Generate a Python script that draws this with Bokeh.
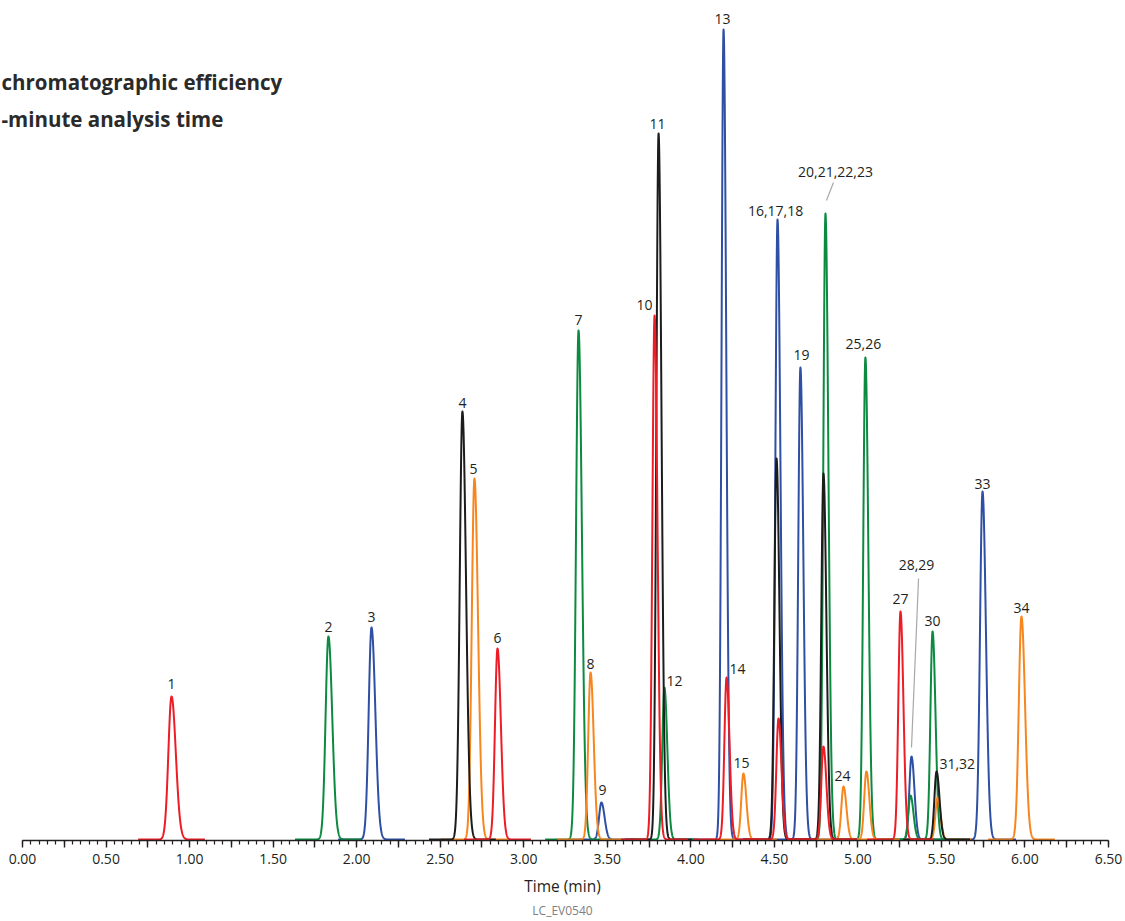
import numpy as np
from bokeh.plotting import figure
from bokeh.models import Range1d, FixedTicker, Label, ColumnDataSource, Title
from bokeh.core.properties import value
from bokeh.embed import file_html
from bokeh.resources import INLINE

# ---- data ----
# one entry per coloured trace peak: retention time (min), height (relative units), sigma (min), colour
peak_time = [0.892, 1.831, 2.089, 2.633, 2.705, 2.843, 3.328, 3.400, 3.465, 3.783,
             3.807, 3.842, 4.196, 4.214, 4.315, 4.519, 4.513, 4.525, 4.656, 4.806,
             4.794, 4.794, 4.914, 5.045, 5.051, 5.255, 5.321, 5.315, 5.447, 5.471,
             5.477, 5.746, 5.979]
peak_height = [143, 203, 212, 428, 361, 191, 509, 167, 37, 524,
               706, 152, 810, 162, 66, 620, 381, 121, 472, 626,
               366, 93, 53, 482, 68, 228, 83, 44, 208, 68,
               42, 348, 223]
peak_sigma = [0.019, 0.017, 0.017, 0.016, 0.016, 0.015, 0.015, 0.014, 0.014, 0.013,
              0.013, 0.013, 0.012, 0.013, 0.013, 0.013, 0.013, 0.013, 0.013, 0.013,
              0.013, 0.013, 0.013, 0.013, 0.013, 0.013, 0.013, 0.013, 0.013, 0.013,
              0.013, 0.015, 0.016]
peak_color = ["red", "green", "blue", "black", "orange", "red", "green", "orange", "blue", "red",
              "black", "green", "blue", "red", "orange", "blue", "black", "red", "blue", "green",
              "black", "red", "orange", "green", "orange", "red", "blue", "green", "green", "black",
              "orange", "blue", "orange"]

# peak labels: text, anchor time (min), anchor height, alignment
lab_text = ["1", "2", "3", "4", "5", "6", "7", "8", "9", "10", "11", "12", "13", "14", "15",
            "16,17,18", "19", "20,21,22,23", "24", "25,26", "27", "28,29", "30", "31,32", "33", "34"]
lab_time = [0.892, 1.831, 2.089, 2.633, 2.699, 2.843, 3.328, 3.400, 3.471, 3.771, 3.801, 3.854,
            4.190, 4.231, 4.303, 4.507, 4.662, 4.866, 4.908, 5.033, 5.255, 5.351, 5.447, 5.488,
            5.746, 5.979]
lab_height = [151, 208, 218, 432, 366, 197, 515, 171, 45, 530, 711, 154, 816, 166, 72,
              624, 480, 663, 59, 491, 236, 270, 214, 71, 351, 227]
lab_align = ["center"] * 9 + ["right", "center", "left", "center", "left", "center",
             "center", "center", "center", "center", "center", "center", "center", "center",
             "left", "center", "center"]

# leader lines (label -> peak)
lead_t0 = [4.854, 5.363]
lead_h0 = [657, 261]
lead_t1 = [4.812, 5.321]
lead_h1 = [639, 92]

x_ticks_major = [i * 0.25 for i in range(27)]
x_ticks_minor = [i * 0.05 for i in range(131)]

heading = ["chromatographic efficiency", "-minute analysis time"]
heading_y = [758, 721]

COLORS = {"red": "#ee1c25", "green": "#0c8a40", "blue": "#2e4fa3",
          "black": "#1c1c1c", "orange": "#f7861f"}
DRAW_ORDER = ["blue", "green", "orange", "black", "red"]
TXT = "#231f20"
FONT = "Open Sans"

W, H = 1124, 920
LEFT_PX, AXIS_PX = 22, 1086           # screen position of t = 0 and length of 0-6.5 min
K = AXIS_PX / 6.5

# ---- build traces ----
xs, ys, cs = [], [], []
for col in DRAW_ORDER:
    for t0, h, s, c in zip(peak_time, peak_height, peak_sigma, peak_color):
        if c != col:
            continue
        x = np.arange(t0 - 0.2, t0 + 0.2, 0.001)
        sr = s * 1.35
        y = np.where(x < t0, h * np.exp(-0.5 * ((x - t0) / s) ** 2),
                     h * np.exp(-0.5 * ((x - t0) / sr) ** 2))
        xs.append(x)
        ys.append(y)
        cs.append(COLORS[c])

p = figure(width=W, height=H,
           x_range=Range1d(-LEFT_PX / K, (W - LEFT_PX) / K), y_range=Range1d(-1, 839),
           output_backend="svg", toolbar_location=None,
           min_border_left=0, min_border_right=0, min_border_top=0, min_border_bottom=80)
p.outline_line_color = None
p.xgrid.visible = False
p.ygrid.visible = False
p.yaxis.visible = False
p.background_fill_color = "white"

p.multi_line(xs=xs, ys=ys, line_color=cs, line_width=2, line_join="round")

p.segment(x0=lead_t0, y0=lead_h0, x1=lead_t1, y1=lead_h1, line_color="#a8a8a8", line_width=1.2)

for al in ["center", "left", "right"]:
    idx = [i for i, a in enumerate(lab_align) if a == al]
    src = ColumnDataSource(dict(x=[lab_time[i] for i in idx], y=[lab_height[i] for i in idx],
                                text=[lab_text[i] for i in idx]))
    p.text(x="x", y="y", text="text", source=src, text_align=al, text_baseline="alphabetic",
           y_offset=-5, text_font=value(FONT), text_font_size="14px", text_color=TXT)

ax = p.xaxis[0]
ax.bounds = (0, 6.5)
ax.ticker = FixedTicker(ticks=x_ticks_major, minor_ticks=x_ticks_minor)
ax.major_label_overrides = {t: (f"{t:.2f}" if (round(t / 0.25) % 2 == 0) else "") for t in x_ticks_major}
ax.axis_line_color = TXT
ax.axis_line_width = 1.6
ax.major_tick_line_color = TXT
ax.major_tick_line_width = 1.4
ax.major_tick_out = 7
ax.major_tick_in = 0
ax.minor_tick_line_color = TXT
ax.minor_tick_line_width = 1.2
ax.minor_tick_out = 4
ax.minor_tick_in = 0
ax.major_label_text_font = FONT
ax.major_label_text_font_size = "14px"
ax.major_label_text_color = TXT
ax.major_label_standoff = 6
ax.axis_label = "Time (min)"
ax.axis_label_text_font = FONT
ax.axis_label_text_font_style = "normal"
ax.axis_label_text_font_size = "15.5px"
ax.axis_label_text_color = TXT
ax.axis_label_standoff = 8

p.add_layout(Title(text="LC_EV0540", align="center", text_font=FONT, text_font_size="12px",
                   text_font_style="normal", text_color="#808080", standoff=0, offset=0), "below")

head_x = (1 - LEFT_PX) / K
for txt, hy in zip(heading, heading_y):
    p.add_layout(Label(x=head_x, y=hy, text=txt, text_font=FONT, text_font_style="bold",
                       text_font_size="20.5px", text_color="#2a2a2a", text_baseline="middle"))

open("out.html", "w").write(file_html(p, INLINE))
